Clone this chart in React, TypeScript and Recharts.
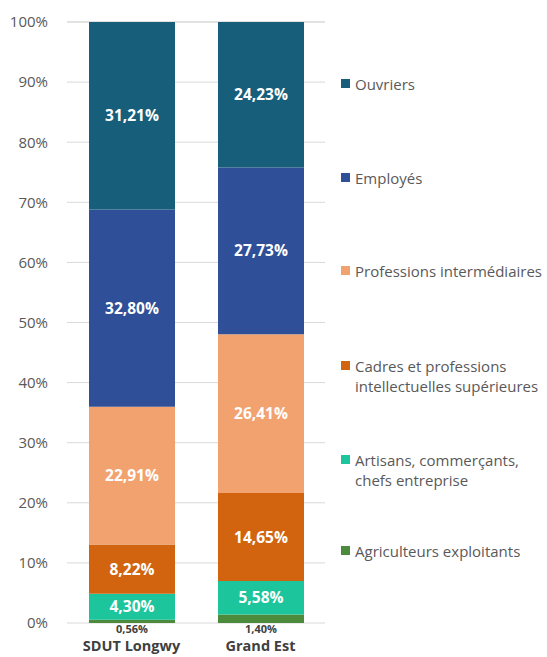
import React from 'react';
import { BarChart, Bar, XAxis, YAxis, CartesianGrid, LabelList } from 'recharts';

const categories = ['SDUT Longwy', 'Grand Est'];
const agriculteurs = [0.56, 1.4];
const artisans = [4.3, 5.58];
const cadres = [8.22, 14.65];
const profInter = [22.91, 26.41];
const employes = [32.8, 27.73];
const ouvriers = [31.21, 24.23];
const yTicks = [0, 10, 20, 30, 40, 50, 60, 70, 80, 90, 100];

const series = [
  { key: 'agri', name: 'Agriculteurs exploitants', values: agriculteurs, color: '#4B8B3B' },
  { key: 'arti', name: 'Artisans, commerçants, chefs entreprise', values: artisans, color: '#1DC59D' },
  { key: 'cadres', name: 'Cadres et professions intellectuelles supérieures', values: cadres, color: '#D2640F' },
  { key: 'prof', name: 'Professions intermédiaires', values: profInter, color: '#F2A26F' },
  { key: 'empl', name: 'Employés', values: employes, color: '#2F4F98' },
  { key: 'ouv', name: 'Ouvriers', values: ouvriers, color: '#175E7B' },
];

const legendItems = [
  { key: 'ouv', lines: ['Ouvriers'], y: 84 },
  { key: 'empl', lines: ['Employés'], y: 178 },
  { key: 'prof', lines: ['Professions intermédiaires'], y: 271 },
  { key: 'cadres', lines: ['Cadres et professions', 'intellectuelles supérieures'], y: 366 },
  { key: 'arti', lines: ['Artisans, commerçants,', 'chefs entreprise'], y: 460 },
  { key: 'agri', lines: ['Agriculteurs exploitants'], y: 551 },
];

const data = categories.map((c, i) => {
  const row: any = { name: c };
  series.forEach((s) => (row[s.key] = s.values[i]));
  return row;
});

const FONT = "'Open Sans', sans-serif";
const fmt = (v: number) => v.toFixed(2).replace('.', ',') + '%';

const BelowLabel = (props: any) => {
  const { x, y, width, height, value } = props;
  return (
    <text x={x + width / 2} y={y + height + 10} textAnchor="middle" fontFamily={FONT} fontSize={11} fontWeight={700} fill="#404040">
      {fmt(value)}
    </text>
  );
};

const InsideLabel = (props: any) => {
  const { x, y, width, height, value } = props;
  return (
    <text x={x + width / 2} y={y + height / 2 + 5.5} textAnchor="middle" fontFamily={FONT} fontSize={15.5} fontWeight={700} fill="#ffffff">
      {fmt(value)}
    </text>
  );
};

const XTick = (props: any) => {
  const { x, y, payload } = props;
  return (
    <text x={x} y={y + 20} textAnchor="middle" fontFamily={FONT} fontSize={14.5} fontWeight={700} fill="#404040">
      {payload.value}
    </text>
  );
};

export default function App() {
  return (
    <div style={{ position: 'absolute', left: 0, top: 0, width: 547, height: 657, background: '#fff' }}>
      <BarChart width={547} height={657} data={data} margin={{ top: 22, right: 222, bottom: 0, left: 0 }} barSize={86}>
        <CartesianGrid vertical={false} stroke="#D9D9D9" />
        <XAxis dataKey="name" axisLine={false} tickLine={false} height={34} tick={<XTick />} interval={0} />
        <YAxis
          domain={[0, 100]}
          ticks={yTicks}
          tickFormatter={(v) => v + '%'}
          axisLine={false}
          tickLine={false}
          width={67}
          tickMargin={13}
          tick={{ fontFamily: FONT, fontSize: 15, fill: '#595959' }}
          interval={0}
        />
        {series.map((s) => (
          <Bar key={s.key} dataKey={s.key} name={s.name} stackId="a" fill={s.color} isAnimationActive={false}>
            {s.key === 'agri' ? (
              <LabelList dataKey={s.key} content={<BelowLabel />} />
            ) : (
              <LabelList dataKey={s.key} content={<InsideLabel />} />
            )}
          </Bar>
        ))}
      </BarChart>
      {legendItems.map((it) => {
        const s = series.find((x) => x.key === it.key)!;
        return (
          <div key={it.key} style={{ position: 'absolute', left: 341, top: it.y - 10, display: 'flex', alignItems: 'flex-start' }}>
            <div style={{ width: 9, height: 9, background: s.color, marginTop: 5, marginRight: 5 }} />
            <div style={{ fontFamily: FONT, fontSize: 15, color: '#595959', lineHeight: '20px', whiteSpace: 'nowrap' }}>
              {it.lines.map((l) => (
                <div key={l}>{l}</div>
              ))}
            </div>
          </div>
        );
      })}
    </div>
  );
}
